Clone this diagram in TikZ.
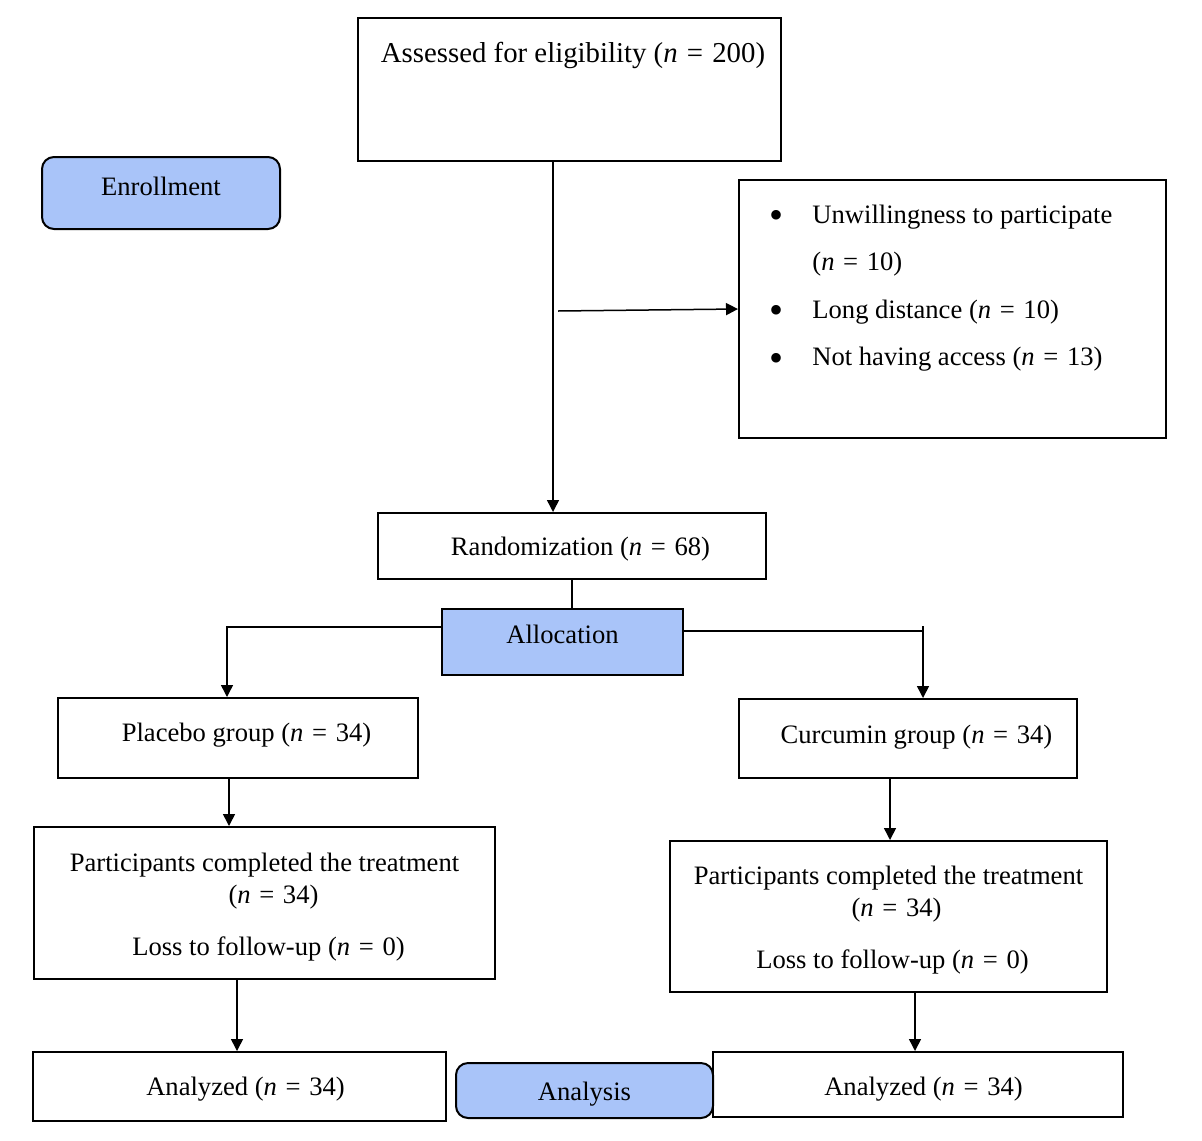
\documentclass[tikz,border=0pt]{standalone}
\usepackage{fontspec}
\setmainfont{Liberation Serif}
\usetikzlibrary{arrows.meta}
\definecolor{phasefill}{RGB}{169,196,249}
\newcommand\fs{\fontsize{13.3}{16}\selectfont}
\newcommand\nv[1]{(\textit{n}\hspace{1pt} = \hspace{1pt}#1)}
\newcommand\bigbul{\raisebox{-2.7pt}{\fontsize{20}{16}\selectfont\textbullet}}
\newcommand\topstrut{\rule{0pt}{13.2pt}}
\tikzset{
  box/.style={draw, line width=1pt, inner sep=0pt, align=center, font=\fs},
  phasebox/.style={box, fill=phasefill},
  roundphase/.style={phasebox, rounded corners=6pt},
  wh/.style 2 args={minimum width=#1*0.5pt, minimum height=#2*0.5pt, anchor=north west},
  hd/.style 2 args={text height=#1, text depth=#2},
  txt/.style={font=\fs, inner sep=0pt, align=center},
  conn/.style={line width=0.75pt},
  arr/.style={conn, -{Triangle[length=6pt,width=6pt]}},
}
\begin{document}
\begin{tikzpicture}[x=0.5pt,y=-0.5pt]
\useasboundingbox (0,0) rectangle (1202,1140);

% boxes
\node[box, wh={423}{143}] (assessed) at (357,17) {};
\node[txt, anchor=base, font=\fontsize{14.4}{17}\selectfont] (assessedtxt) at (573,62) {Assessed for eligibility \nv{200}};

\node[roundphase, wh={238}{72}, hd={7pt}{5pt}] (enroll) at (41,156) {Enrollment};

\node[box, wh={427}{258}] (excl) at (738,179) {};
\node[txt, anchor=base west, align=left] (excltxt) at (769,223) {%
\begin{tabular}[t]{@{}p{21.5pt}@{}l@{}}
\bigbul & Unwillingness to participate\\[7.8pt]
 & \nv{10}\\[7.8pt]
\bigbul & Long distance \nv{10}\\[7.8pt]
\bigbul & Not having access \nv{13}
\end{tabular}};

\node[box, wh={388}{66}, hd={10.5pt}{1.5pt}] (rand) at (377,512) {\hspace*{8.5pt}Randomization \nv{68}};

\node[phasebox, wh={241}{66}, hd={6.5pt}{5.5pt}] (alloc) at (441,608) {Allocation};

\node[box, wh={360}{80}, hd={7.5pt}{4.5pt}] (placebo) at (57,697) {\hspace*{8.5pt}Placebo group \nv{34}};
\node[box, wh={338}{79}, hd={8.25pt}{3.75pt}] (curcumin) at (738,698) {\hspace*{8.5pt}Curcumin group \nv{34}};

\node[box, wh={461}{152}] (compl) at (33,826) {\topstrut Participants completed the treatment\\ \hspace*{9pt}\nv{34}\\[10pt] \hspace*{4pt}Loss to follow-up \nv{0}};
\node[box, wh={437}{151}] (comprr) at (669,840) {\topstrut Participants completed the treatment\\ \hspace*{8pt}\nv{34}\\[10pt] \hspace*{4pt}Loss to follow-up \nv{0}};

\node[box, wh={413}{69}, hd={10.25pt}{1.75pt}] (analyl) at (32,1051) {\hspace*{6pt}Analyzed \nv{34}};
\node[box, wh={410}{65}, hd={11.25pt}{0.75pt}] (analyr) at (712,1051) {\hspace*{5.5pt}Analyzed \nv{34}};
\node[roundphase, wh={257}{55}, hd={10.75pt}{1.25pt}] (analysis) at (455,1062) {Analysis};

% connector helper coordinates
\coordinate (vx) at (553,0);
\coordinate (bstart) at (558,311);
\coordinate (lc) at (227,627);
\coordinate (rc) at (923,631);
\coordinate (rtick) at (923,626);
\coordinate (px) at (229,0);
\coordinate (cx) at (890,0);
\coordinate (lax) at (237,0);
\coordinate (rax) at (915,0);

% connectors
\draw[arr] (assessed.south -| vx) -- (rand.north -| vx);
\draw[arr] (bstart) -- (excl.west);
\draw[conn] (rand.south) -- (alloc.north -| rand.south);
\draw[arr] (lc -| alloc.west) -- (lc) -- (placebo.north -| lc);
\draw[arr] (rc -| alloc.east) -- (rc) -- (curcumin.north -| rc);
\draw[conn] (rtick) -- (rc);
\draw[arr] (placebo.south -| px) -- (compl.north -| px);
\draw[arr] (curcumin.south -| cx) -- (comprr.north -| cx);
\draw[arr] (compl.south -| lax) -- (analyl.north -| lax);
\draw[arr] (comprr.south -| rax) -- (analyr.north -| rax);
\end{tikzpicture}
\end{document}
